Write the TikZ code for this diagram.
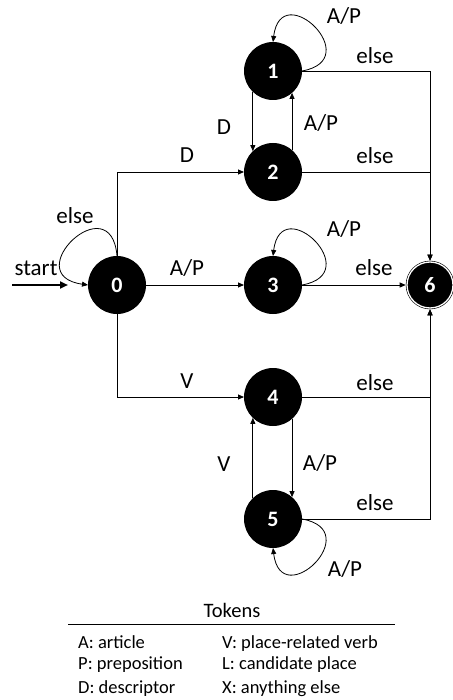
\documentclass[tikz,border=0pt]{standalone}
\usepackage{fontspec}
\setmainfont{Carlito}
\usetikzlibrary{arrows.meta}
\begin{document}
\begin{tikzpicture}[x=1pt,y=-1pt,
  state/.style={circle,fill=black,minimum size=58pt,inner sep=0pt,outer sep=0pt,
    text=white,font=\fontsize{22}{24}\selectfont\bfseries},
  accept/.style={circle,fill=black,draw=black,double=white,double distance=1.3pt,
    line width=0.6pt,minimum size=46pt,inner sep=0pt,outer sep=1.3pt,
    text=white,font=\fontsize{22}{24}\selectfont\bfseries},
  edge/.style={line width=0.8pt,-{Triangle[length=6pt,width=5pt]}},
  startarrow/.style={line width=2.2pt,-{Triangle[length=8pt,width=7pt]}},
  lbl/.style={font=\fontsize{23}{26}\selectfont,inner sep=0pt},
  leg/.style={font=\fontsize{18.5}{21}\selectfont,inner sep=0pt,anchor=base west},
]
\useasboundingbox (0,0) rectangle (452,700);
% states
\node[state] (n0) at (117,285) {0};
\node[state] (n1) at (273,71) {1};
\node[state] (n2) at (273,172) {2};
\node[state] (n3) at (273,285) {3};
\node[state] (n4) at (273,397) {4};
\node[state] (n5) at (273,519) {5};
\node[accept] (n6) at (430,285) {6};
% start
\coordinate (s) at (12,285);
\draw[startarrow,shorten >=20pt] (s) -- (n0.west);
\node[lbl] (lstart) at (36,268) {start};
% self loops
\draw[edge] (n0.north) .. controls +(-6,-72) and +(-71,-10) .. (n0.west);
\node[lbl] (l0) at (75,216) {else};
\draw[edge] (n1.east) .. controls +(65,-11.5) and +(8,-65.5) .. (n1.north);
\node[lbl] (l1) at (344,16) {A/P};
\draw[edge] (n3.east) .. controls +(65,-11.5) and +(8,-65.5) .. (n3.north);
\node[lbl] (l3) at (344,229) {A/P};
\draw[edge] (n5.east) .. controls +(65,11.5) and +(8,65.5) .. (n5.south);
\node[lbl] (l5) at (345,569) {A/P};
% from 0
\draw[edge] (n0.north) |- (n2.west);
\node[lbl] (ld) at (187,155) {D};
\draw[edge] (n0) -- (n3);
\node[lbl] (lap) at (187,268) {A/P};
\draw[edge] (n0.south) |- (n4.west);
\node[lbl] (lv) at (187,381) {V};
% between 1 and 2
\draw[edge] (n1.226) -- (n2.134);
\node[lbl] (ld12) at (224,127) {D};
\draw[edge] (n2.49) -- (n1.311);
\node[lbl] (lap21) at (321,123) {A/P};
% between 4 and 5
\draw[edge] (n5.134) -- (n4.226);
\node[lbl] (lv54) at (224,464) {V};
\draw[edge] (n4.311) -- (n5.49);
\node[lbl] (lap45) at (320,463) {A/P};
% to 6
\draw[edge] (n1.east) -| (n6.north);
\node[lbl] (le1) at (375,56) {else};
\draw[edge] (n2.east) -| (n6.north);
\node[lbl] (le2) at (375,156) {else};
\draw[edge] (n3) -- (n6);
\node[lbl] (le3) at (374,268) {else};
\draw[edge] (n4.east) -| (n6.south);
\node[lbl] (le4) at (375,383) {else};
\draw[edge] (n5.east) -| (n6.south);
\node[lbl] (le5) at (375,503) {else};
% legend
\node[font=\fontsize{20.5}{23}\selectfont,inner sep=0pt] (tok) at (232,610) {Tokens};
\coordinate (r1) at (68,624);
\coordinate (r2) at (395,624);
\draw[line width=0.9pt] (r1) -- (r2);
\node[leg] (la) at (78,648) {A: article};
\node[leg] (lp) at (78,669) {P: preposition};
\node[leg] (ldd) at (78,693) {D: descriptor};
\node[leg] (lvv) at (222,648) {V: place-related verb};
\node[leg] (ll) at (222,669) {L: candidate place};
\node[leg] (lx) at (222,693) {X: anything else};
\end{tikzpicture}
\end{document}
